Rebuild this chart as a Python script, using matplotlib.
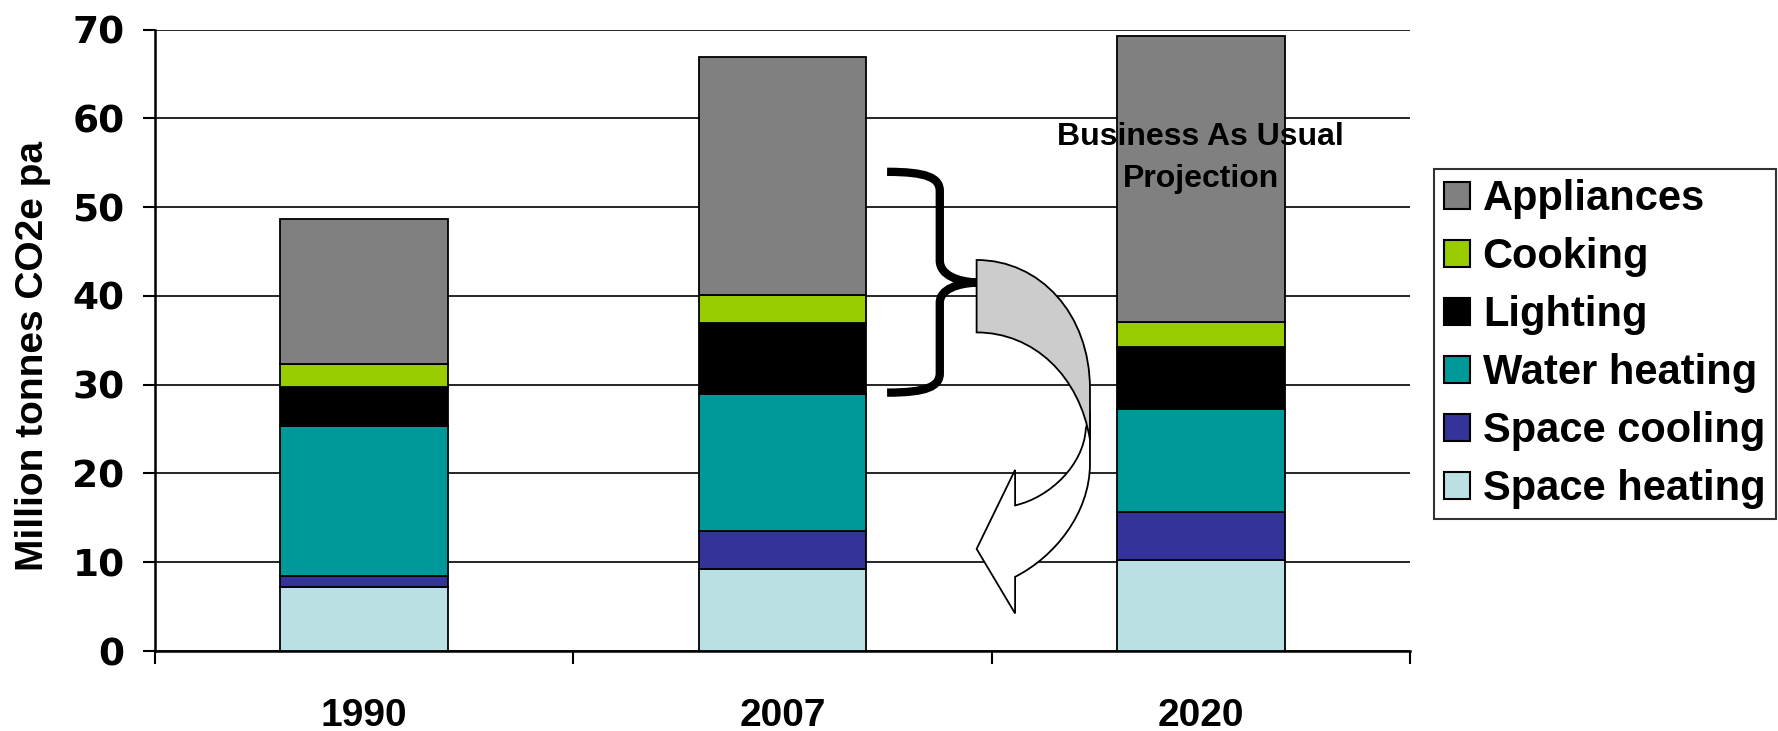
import matplotlib
matplotlib.use("Agg")
import matplotlib.pyplot as plt
from matplotlib.patches import Patch, PathPatch
from matplotlib.path import Path
import numpy as np

years = ["1990", "2007", "2020"]
space_heating = [7.2, 9.2, 10.2]
space_cooling = [1.3, 4.3, 5.5]
water_heating = [16.8, 15.4, 11.6]
lighting = [4.4, 8.0, 6.9]
cooking = [2.6, 3.2, 2.9]
appliances = [16.4, 26.8, 32.2]

series = [
    ("Space heating", space_heating, "#BBE0E3"),
    ("Space cooling", space_cooling, "#333399"),
    ("Water heating", water_heating, "#009999"),
    ("Lighting", lighting, "#000000"),
    ("Cooking", cooking, "#99CC00"),
    ("Appliances", appliances, "#808080"),
]

W, H = 1778, 731
fig = plt.figure(figsize=(W / 100, H / 100), dpi=100)
ax = fig.add_axes([155 / W, 1 - 651 / H, (1410 - 155) / W, (651 - 29.5) / H])

x = np.arange(len(years))
bottom = np.zeros(len(years))
for name, vals, col in series:
    ax.bar(x, vals, width=0.4, bottom=bottom, color=col, edgecolor="black",
           linewidth=1.3, zorder=3)
    bottom += np.array(vals)

ax.set_xlim(-0.5, 2.5)
ax.set_ylim(0, 70)
ax.set_yticks(range(0, 71, 10))
ax.yaxis.grid(True, color="black", linewidth=1.2, zorder=0)
ax.set_axisbelow(True)
for s in ("top", "right"):
    ax.spines[s].set_visible(False)
for s in ("left", "bottom"):
    ax.spines[s].set_linewidth(1.8)

# category boundaries carry the tick marks, labels sit at the centres
ax.set_xticks([-0.5, 0.5, 1.5, 2.5])
ax.set_xticklabels([])
ax.set_xticks(x, minor=True)
ax.set_xticklabels(years, minor=True, fontsize=28, fontweight="bold",
                   family=["Liberation Sans Narrow", "Liberation Sans"])
ax.tick_params(axis="x", which="major", direction="out", length=9, width=1.5)
ax.tick_params(axis="x", which="minor", length=0, pad=34)
ax.tick_params(axis="y", direction="out", length=9, width=1.5, pad=13)
for lab in ax.get_yticklabels():
    lab.set_fontsize(27)
    lab.set_fontweight("bold")
    lab.set_family("DejaVu Sans")

ax.set_ylabel("Million tonnes CO2e pa", fontsize=28, fontweight="bold",
              family="Liberation Sans")
ax.yaxis.set_label_coords(-0.083, 0.474)

handles = [Patch(facecolor=c, edgecolor="black", linewidth=1.5, label=n)
           for n, v, c in series[::-1]]
leg = fig.legend(handles=handles, loc="upper left",
                 bbox_to_anchor=(1434 / W, 1 - 169 / H), borderaxespad=0,
                 prop={"family": "Liberation Sans", "weight": "bold", "size": 30},
                 frameon=True, fancybox=False, edgecolor="black",
                 handlelength=0.62, handleheight=0.62, handletextpad=0.3,
                 labelspacing=0.43, borderpad=0.25)
leg.get_frame().set_linewidth(1.5)

ax.text(2.0, 55.5, "Business As Usual\nProjection", ha="center", va="center",
        fontsize=23, fontweight="bold", family="Liberation Sans", zorder=6,
        linespacing=1.5)

# curly brace
brace = [
    ((1.250, 53.97), Path.MOVETO),
    ((1.345, 53.97), Path.CURVE4), ((1.376, 53.3), Path.CURVE4), ((1.376, 51.8), Path.CURVE4),
    ((1.376, 44.0), Path.LINETO),
    ((1.376, 42.3), Path.CURVE4), ((1.42, 41.6), Path.CURVE4), ((1.464, 41.5), Path.CURVE4),
    ((1.42, 41.4), Path.CURVE4), ((1.376, 40.8), Path.CURVE4), ((1.376, 39.2), Path.CURVE4),
    ((1.376, 31.3), Path.LINETO),
    ((1.376, 29.8), Path.CURVE4), ((1.345, 29.1), Path.CURVE4), ((1.250, 29.1), Path.CURVE4),
]
v, c = zip(*brace)
ax.add_patch(PathPatch(Path(v, c), facecolor="none", edgecolor="black",
                       linewidth=6, capstyle="butt", zorder=5))

# curved arrow: white body first, grey face on top
body = [
    ((1.725, 25.0), Path.MOVETO),
    ((1.72, 21.0), Path.CURVE4), ((1.64, 17.3), Path.CURVE4), ((1.556, 16.4), Path.CURVE4),
    ((1.556, 20.4), Path.LINETO),
    ((1.464, 11.5), Path.LINETO),
    ((1.556, 4.23), Path.LINETO),
    ((1.556, 8.35), Path.LINETO),
    ((1.65, 10.6), Path.CURVE4), ((1.735, 15.5), Path.CURVE4), ((1.735, 21.1), Path.CURVE4),
    ((1.735, 27.0), Path.LINETO),
    ((1.725, 25.0), Path.CLOSEPOLY),
]
v, c = zip(*body)
ax.add_patch(PathPatch(Path(v, c), facecolor="white", edgecolor="black",
                       linewidth=1.3, zorder=5))
face = [
    ((1.464, 44.04), Path.MOVETO),
    ((1.615, 44.04), Path.CURVE4), ((1.735, 38.0), Path.CURVE4), ((1.735, 29.5), Path.CURVE4),
    ((1.735, 23.8), Path.LINETO),
    ((1.71, 31.0), Path.CURVE4), ((1.60, 35.88), Path.CURVE4), ((1.464, 35.88), Path.CURVE4),
    ((1.464, 44.04), Path.CLOSEPOLY),
]
v, c = zip(*face)
ax.add_patch(PathPatch(Path(v, c), facecolor="#CCCCCC", edgecolor="black",
                       linewidth=1.3, zorder=5))

fig.savefig("out.png", dpi=100)
